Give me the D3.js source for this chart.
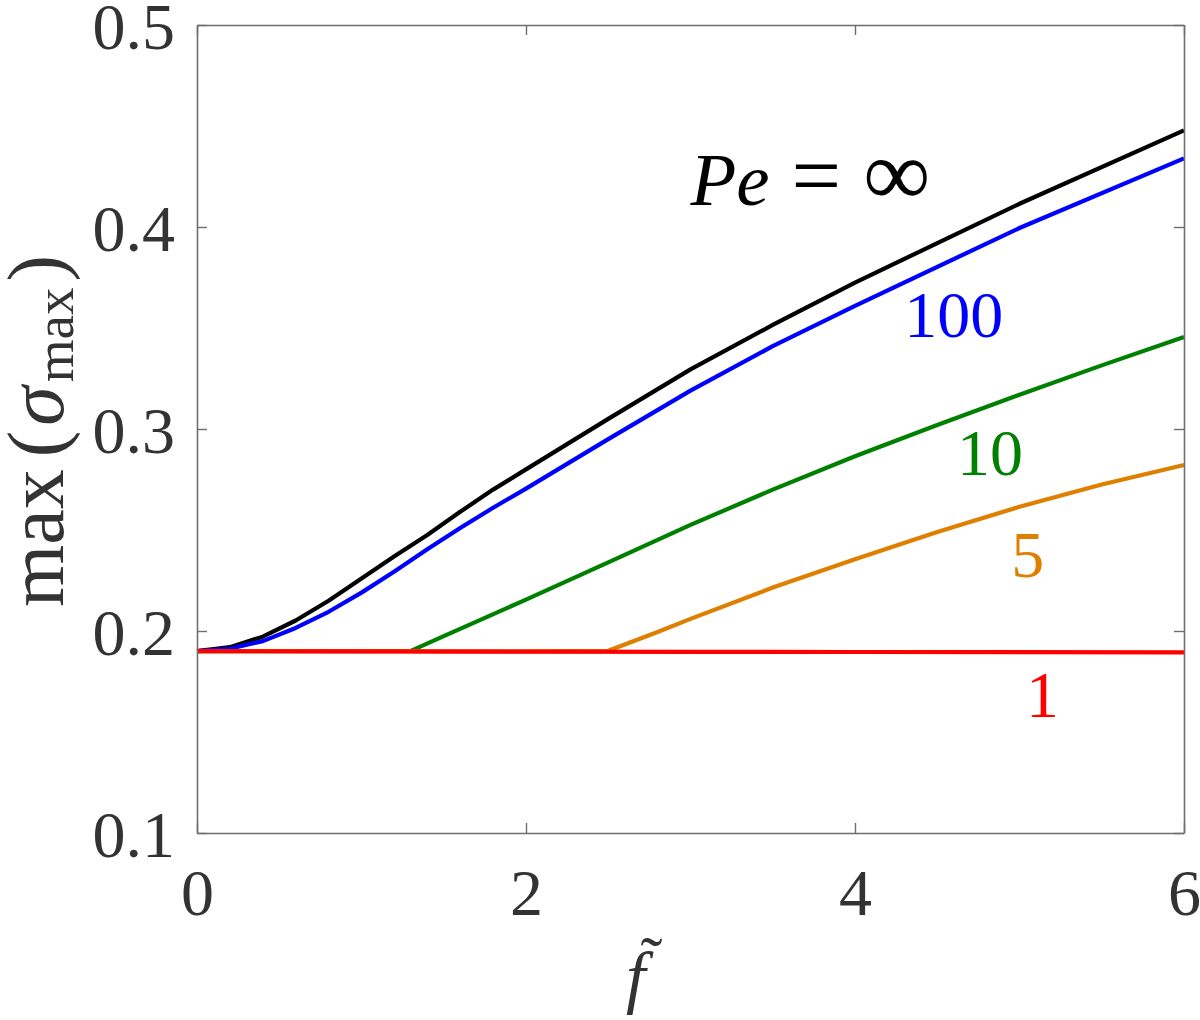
<!DOCTYPE html>
<html>
<head>
<meta charset="utf-8">
<script src="https://cdn.jsdelivr.net/npm/d3@7"></script>
<style>
  html, body { margin: 0; padding: 0; background: #fff; }
  svg { display: block; }
</style>
</head>
<body>
<svg id="chart" width="1200" height="1020"></svg>
<script>
// ---------- data ----------
const fInf   = [0, 0.2, 0.4, 0.6, 0.8, 1.0, 1.2, 1.4, 1.6, 1.8, 2.0, 2.5, 3.0, 3.5, 4.0, 5.0, 6.0];
const sInf   = [0.190, 0.1920, 0.1972, 0.2052, 0.2150, 0.2260, 0.2370, 0.2475, 0.2590, 0.2700, 0.2800, 0.3050, 0.3295, 0.3515, 0.3725, 0.4115, 0.4478];
const f100   = [0, 0.2, 0.4, 0.6, 0.8, 1.0, 1.2, 1.4, 1.6, 1.8, 2.0, 2.5, 3.0, 3.5, 4.0, 5.0, 6.0];
const s100   = [0.190, 0.1912, 0.1950, 0.2015, 0.2095, 0.2190, 0.2295, 0.2405, 0.2510, 0.2610, 0.2705, 0.2950, 0.3190, 0.3410, 0.3610, 0.3995, 0.4340];
const f10    = [0, 0.5, 1.0, 1.3, 1.5, 2.0, 2.5, 3.0, 3.5, 4.0, 4.5, 5.0, 5.5, 6.0];
const s10    = [0.190, 0.190, 0.1900, 0.1902, 0.1975, 0.2155, 0.2340, 0.2525, 0.2700, 0.2865, 0.3020, 0.3170, 0.3315, 0.3455];
const f5     = [0, 0.5, 1.0, 1.5, 2.0, 2.5, 2.8, 3.0, 3.5, 4.0, 4.5, 5.0, 5.5, 6.0];
const s5     = [0.190, 0.190, 0.190, 0.1899, 0.1899, 0.1902, 0.1995, 0.2060, 0.2215, 0.2355, 0.2490, 0.2615, 0.2725, 0.2822];
const f1     = [0, 1, 2, 3, 4, 5, 6];
const s1     = [0.1900, 0.1899, 0.1898, 0.1897, 0.1896, 0.1895, 0.1894];

const seriesNames  = ["Pe = ∞", "100", "10", "5", "1"];
const seriesColors = ["#000000", "#0000ff", "#008000", "#df7f00", "#ff0000"];

const xTicks = [0, 2, 4, 6];
const yTicks = [0.1, 0.2, 0.3, 0.4, 0.5];
const xDomain = [0, 6];
const yDomain = [0.1, 0.5];

// ---------- layout ----------
const mLeft = 197, mRight = 1184, mTop = 25, mBottom = 833;
const svg = d3.select("#chart");
const x = d3.scaleLinear().domain(xDomain).range([mLeft, mRight]);
const y = d3.scaleLinear().domain(yDomain).range([mBottom, mTop]);

const tickFont = "'Liberation Serif', 'Times New Roman', serif";
const axisColor = "#6e6e6e";
const labelColor = "#333333";

// ---------- lines ----------
const series = [
  {fs: fInf, vs: sInf}, {fs: f100, vs: s100}, {fs: f10, vs: s10}, {fs: f5, vs: s5}, {fs: f1, vs: s1}
];
const line = d3.line().x(d => x(d[0])).y(d => y(d[1]));
const gLines = svg.append("g");
series.forEach((s, i) => {
  const pts = s.fs.map((f, j) => [f, s.vs[j]]);
  gLines.append("path")
    .attr("d", line(pts))
    .attr("fill", "none")
    .attr("stroke", seriesColors[i])
    .attr("stroke-width", 4.2)
    .attr("stroke-linejoin", "round");
});

// ---------- axes ----------
function styleAxis(g, hideText) {
  g.select(".domain").attr("stroke", axisColor).attr("stroke-width", 1.6);
  g.selectAll(".tick line").attr("stroke", axisColor).attr("stroke-width", 1.4);
  g.selectAll(".tick text")
    .attr("fill", labelColor)
    .style("font-family", tickFont)
    .style("font-size", "66px");
  if (hideText) g.selectAll(".tick text").remove();
}

const gx = svg.append("g").attr("transform", `translate(0,${mBottom})`)
  .call(d3.axisBottom(x).tickValues(xTicks).tickFormat(d3.format("d")).tickSizeInner(-10).tickSizeOuter(0).tickPadding(35));
styleAxis(gx, false);

const gxTop = svg.append("g").attr("transform", `translate(0,${mTop})`)
  .call(d3.axisTop(x).tickValues(xTicks).tickSizeInner(-10).tickSizeOuter(0));
styleAxis(gxTop, true);

const gy = svg.append("g").attr("transform", `translate(${mLeft},0)`)
  .call(d3.axisLeft(y).tickValues(yTicks).tickFormat(d3.format(".1f")).tickSizeInner(-10).tickSizeOuter(0).tickPadding(22));
styleAxis(gy, false);
gy.selectAll(".tick text").attr("dy", "0.36em");

const gyRight = svg.append("g").attr("transform", `translate(${mRight},0)`)
  .call(d3.axisRight(y).tickValues(yTicks).tickSizeInner(-10).tickSizeOuter(0));
styleAxis(gyRight, true);

// ---------- axis labels ----------
const xl = svg.append("text")
  .attr("x", 626).attr("y", 1000)
  .style("font-family", tickFont).style("font-size", "70px")
  .attr("fill", labelColor);
xl.append("tspan").style("font-style", "italic").text("f");
xl.append("tspan").attr("dx", -5).attr("dy", -18).style("font-size", "66px").text("˜");

const yl = svg.append("text")
  .attr("transform", "translate(63,0) rotate(-90)")
  .attr("x", -607).attr("y", 0)
  .style("font-family", tickFont)
  .attr("fill", labelColor);
yl.append("tspan").style("font-size", "80px").text("max");
yl.append("tspan").style("font-size", "80px").attr("dx", 12).text("(");
yl.append("tspan").style("font-size", "80px").style("font-style", "italic").attr("dx", 5).text("σ");
yl.append("tspan").style("font-size", "55px").attr("dx", 4).attr("dy", 10).text("max");
yl.append("tspan").style("font-size", "80px").attr("dx", 6).attr("dy", -10).text(")");

// ---------- curve annotations ----------
const annFont = "'Liberation Serif', 'Times New Roman', serif";
const ann = [
  {i: 1, f: 4.30, v: 0.3455, t: "100"},
  {i: 2, f: 4.62, v: 0.2772, t: "10"},
  {i: 3, f: 4.95, v: 0.2267, t: "5"},
  {i: 4, f: 5.04, v: 0.1574, t: "1"}
];
ann.forEach(a => {
  svg.append("text")
    .attr("x", x(a.f)).attr("y", y(a.v))
    .style("font-family", annFont).style("font-size", "66px")
    .attr("fill", seriesColors[a.i])
    .text(a.t);
});
const pe = svg.append("text")
  .attr("x", x(3.0)).attr("y", y(0.4109))
  .style("font-family", annFont)
  .attr("fill", seriesColors[0]);
pe.append("tspan").style("font-style", "italic").style("font-size", "75px").text("Pe");
pe.append("tspan").attr("dx", 22).style("font-size", "88px").text("=");
pe.append("tspan").attr("dx", 22).style("font-size", "94px").text("∞");
</script>
</body>
</html>
